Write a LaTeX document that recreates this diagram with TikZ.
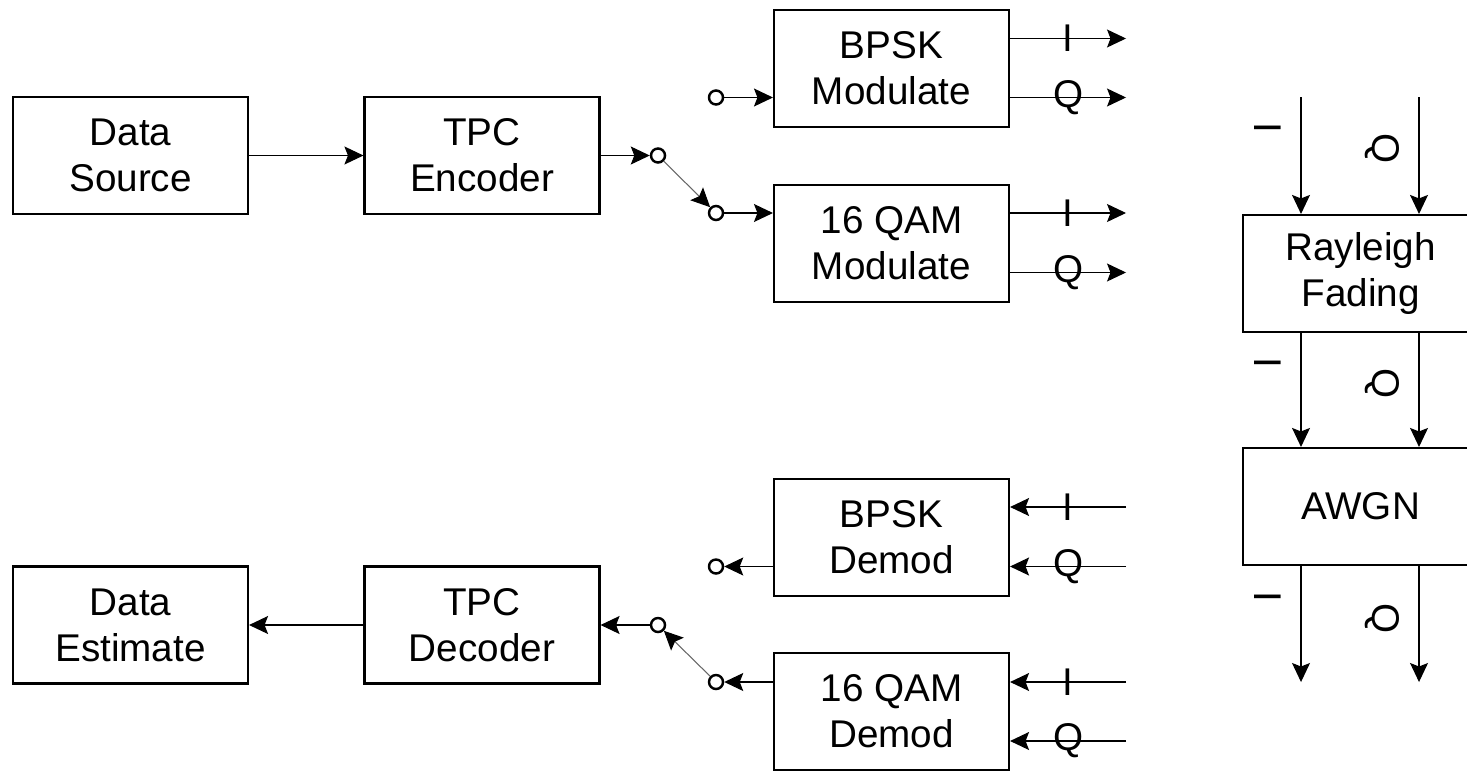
\documentclass[tikz,border=0pt]{standalone}
\usepackage{fontspec}
\setmainfont{Liberation Sans}
\usetikzlibrary{arrows.meta,positioning}

\begin{document}
\begin{tikzpicture}[
  font=\fontsize{11pt}{13.1pt}\selectfont,
  block/.style={rectangle, draw, line width=0.6pt, minimum width=2.35cm, minimum height=1.17cm, align=center, inner sep=0pt},
  port/.style={circle, draw, line width=0.7pt, minimum size=1.4mm, inner sep=0pt},
  arrow/.style={-{Stealth[length=1.9mm, width=1.8mm, inset=0.35mm]}, line width=0.3pt},
  swline/.style={-{Stealth[length=1.9mm, width=1.8mm, inset=0.35mm, black]}, line width=0.3pt, draw=black!60},
  vlabel/.style={rotate=-90, inner sep=0pt}
]
\useasboundingbox (0,0) rectangle (14.67,7.70);
\clip (0,0) rectangle (14.67,7.70);
% transmitter chain
\node[block] (src) at (1.305,6.145) {Data\\Source};
\node[block] (enc) at (4.82,6.145) {TPC\\Encoder};
\node[block] (bpskmod) at (8.915,7.015) {BPSK\\Modulate};
\node[block] (qammod) at (8.915,5.265) {16 QAM\\Modulate};
\node[port] (encsw) at (6.58,6.145) {};
\node[port] (bpskin) at (7.16,6.725) {};
\node[port] (qamin) at (7.16,5.57) {};
\draw[arrow] (src) -- (enc);
\draw[arrow] (enc) -- (encsw);
\draw[swline] (encsw) -- (qamin);
\draw[arrow] (bpskin) -- (bpskin -| bpskmod.west);
\draw[arrow] (qamin) -- (qamin -| qammod.west);
% modulator outputs
\coordinate (bmI) at (11.26,7.315);
\coordinate (bmQ) at (11.26,6.725);
\coordinate (qmI) at (11.26,5.57);
\coordinate (qmQ) at (11.26,4.975);
\draw[arrow] (bmI -| bpskmod.east) -- (bmI) node[midway] {I};
\draw[arrow] (bmQ -| bpskmod.east) -- (bmQ) node[midway] {Q};
\draw[arrow] (qmI -| qammod.east) -- (qmI) node[midway] {I};
\draw[arrow] (qmQ -| qammod.east) -- (qmQ) node[midway] {Q};
% channel
\node[block] (ray) at (13.605,4.965) {Rayleigh\\Fading};
\node[block] (awgn) at (13.605,2.635) {AWGN};
\coordinate (chIin) at (13.01,6.73);
\coordinate (chQin) at (14.19,6.73);
\coordinate (chIout) at (13.01,0.88);
\coordinate (chQout) at (14.19,0.88);
\draw[arrow] (chIin) -- (chIin |- ray.north) node[pos=0.26, xshift=-3.3mm, vlabel] {I};
\draw[arrow] (chQin) -- (chQin |- ray.north) node[pos=0.44, xshift=-3.7mm, vlabel] {Q};
\draw[arrow] (chIin |- ray.south) -- (chIin |- awgn.north) node[pos=0.26, xshift=-3.3mm, vlabel] {I};
\draw[arrow] (chQin |- ray.south) -- (chQin |- awgn.north) node[pos=0.44, xshift=-3.7mm, vlabel] {Q};
\draw[arrow] (chIout |- awgn.south) -- (chIout) node[pos=0.27, xshift=-3.3mm, vlabel] {I};
\draw[arrow] (chQout |- awgn.south) -- (chQout) node[pos=0.45, xshift=-3.7mm, vlabel] {Q};
% receiver chain
\node[block] (bpskdem) at (8.915,2.325) {BPSK\\Demod};
\node[block] (qamdem) at (8.915,0.585) {16 QAM\\Demod};
\node[block] (dec) at (4.82,1.45) {TPC\\Decoder};
\node[block] (est) at (1.305,1.45) {Data\\Estimate};
\node[port] (decsw) at (6.58,1.45) {};
\node[port] (bpskout) at (7.16,2.035) {};
\node[port] (qamout) at (7.16,0.88) {};
\coordinate (bdI) at (11.26,2.63);
\coordinate (bdQ) at (11.26,2.035);
\coordinate (qdI) at (11.26,0.88);
\coordinate (qdQ) at (11.26,0.29);
\draw[arrow] (bdI) -- (bdI -| bpskdem.east) node[midway] {I};
\draw[arrow] (bdQ) -- (bdQ -| bpskdem.east) node[midway] {Q};
\draw[arrow] (qdI) -- (qdI -| qamdem.east) node[midway] {I};
\draw[arrow] (qdQ) -- (qdQ -| qamdem.east) node[midway] {Q};
\draw[arrow] (bpskout -| bpskdem.west) -- (bpskout);
\draw[arrow] (qamout -| qamdem.west) -- (qamout);
\draw[swline] (qamout) -- (decsw);
\draw[arrow] (decsw) -- (dec);
\draw[arrow] (dec) -- (est);
\end{tikzpicture}
\end{document}
